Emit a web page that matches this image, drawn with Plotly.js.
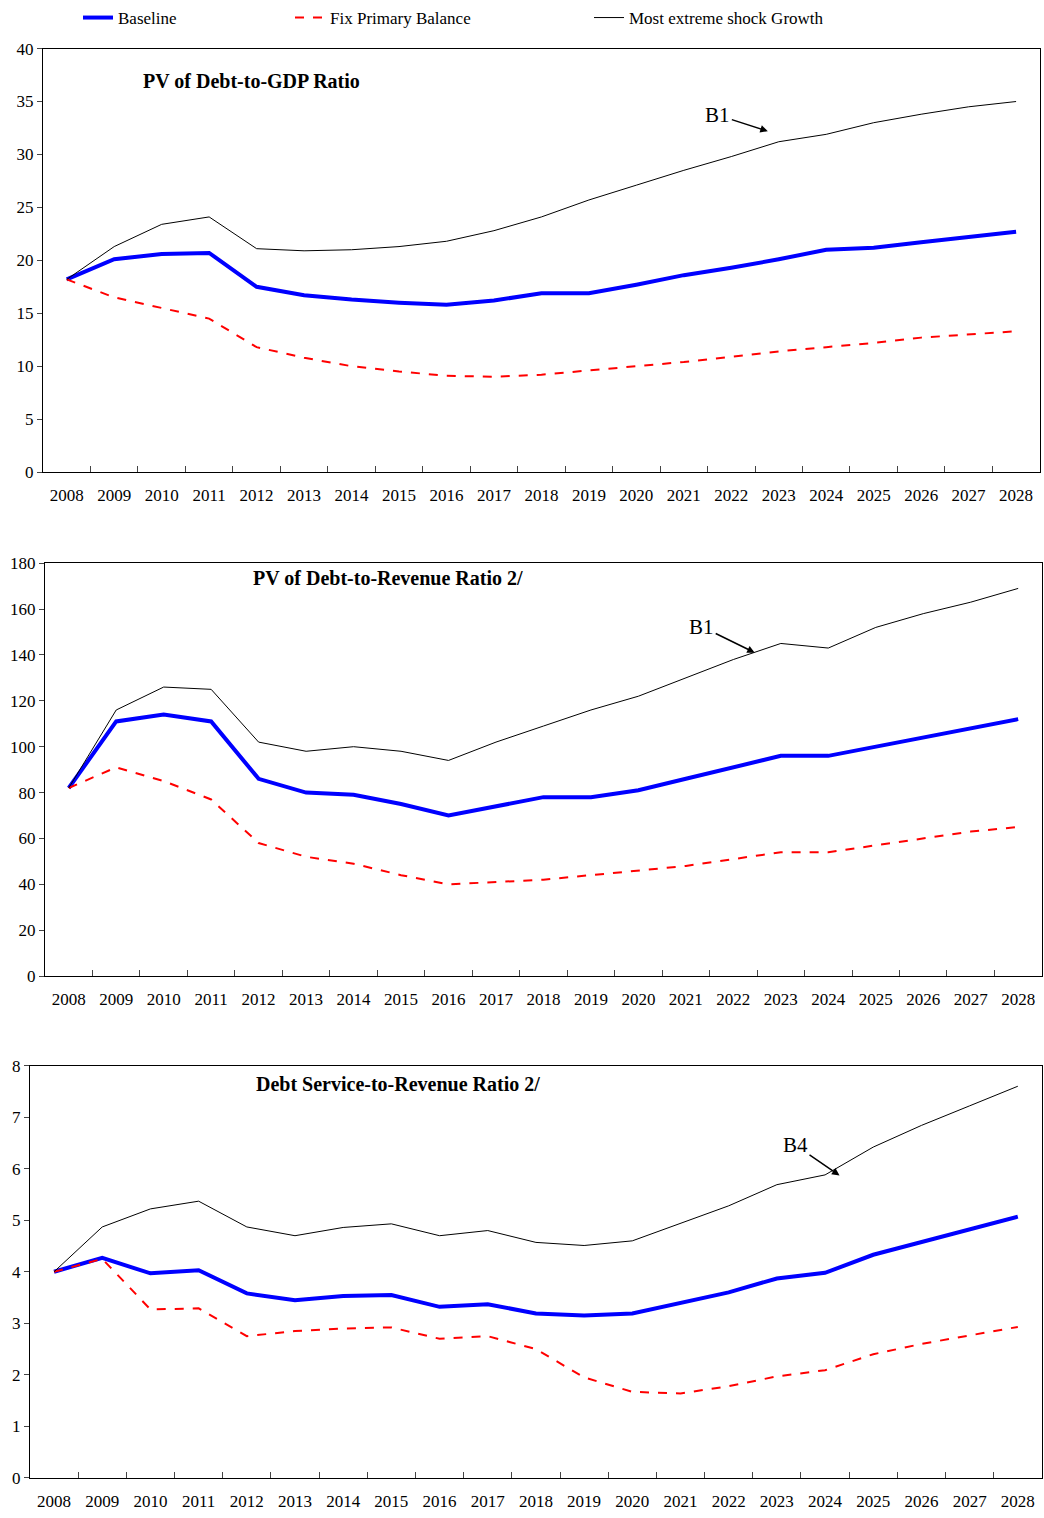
<!DOCTYPE html>
<html><head><meta charset="utf-8">
<script src="https://cdn.plot.ly/plotly-3.0.1.min.js"></script>
<style>body{margin:0}#chart{width:1044px;height:1518px}</style>
</head><body><div id="chart"></div>
<script>
const years = ['2008','2009','2010','2011','2012','2013','2014','2015','2016','2017','2018','2019','2020','2021','2022','2023','2024','2025','2026','2027','2028'];

const gdpBase = [18.2,20.1,20.6,20.7,17.5,16.7,16.3,16.0,15.8,16.2,16.9,16.9,17.7,18.6,19.3,20.1,21.0,21.2,21.7,22.2,22.7];
const gdpFix = [18.2,16.5,15.5,14.5,11.8,10.8,10.0,9.5,9.1,9.0,9.2,9.6,10.0,10.4,10.9,11.4,11.8,12.2,12.7,13.0,13.3];
const gdpShock = [18.2,21.3,23.4,24.1,21.1,20.9,21.0,21.3,21.8,22.8,24.1,25.7,27.1,28.5,29.8,31.2,31.9,33.0,33.8,34.5,35.0];

const revBase = [82,111,114,111,86,80,79,75,70,74,78,78,81,86,91,96,96,100,104,108,112];
const revFix = [82,91,85,77,58,52,49,44,40,41,42,44,46,48,51,54,54,57,60,63,65];
const revShock = [82,116,126,125,102,98,100,98,94,102,109,116,122,130,138,145,143,152,158,163,169];

const dsBase = [4.0,4.27,3.97,4.03,3.58,3.45,3.53,3.55,3.32,3.37,3.19,3.15,3.19,3.39,3.6,3.87,3.98,4.33,4.58,4.82,5.07];
const dsFix = [4.0,4.25,3.27,3.29,2.75,2.85,2.9,2.92,2.7,2.75,2.5,1.95,1.67,1.64,1.78,1.97,2.09,2.4,2.6,2.77,2.93];
const dsShock = [4.0,4.87,5.22,5.37,4.87,4.7,4.86,4.93,4.7,4.8,4.57,4.51,4.6,4.94,5.28,5.69,5.88,6.42,6.84,7.22,7.6];

const names = ['Baseline','Fix Primary Balance','Most extreme shock Growth'];
const styles = [{color:'#0000ff',width:4},{color:'#ff0000',width:2,dash:'dash'},{color:'#000',width:1}];
const legends = ['legend','legend2','legend3'];

let data = [];
[[gdpBase,gdpFix,gdpShock],[revBase,revFix,revShock],[dsBase,dsFix,dsShock]].forEach(function(set,p){
  set.forEach(function(ys,i){
    data.push({x:years,y:ys,type:'scatter',mode:'lines',name:names[i],line:styles[i],legend:legends[i],
      xaxis:p==0?'x':'x'+(p+1),yaxis:p==0?'y':'y'+(p+1),showlegend:p==0});
  });
});

const fam = 'Liberation Serif';
const f = {family:fam,size:17,color:'#000'};
function xa(dom,anchor){return {domain:dom,anchor:anchor,type:'category',tickson:'boundaries',ticks:'inside',ticklen:6,
  showline:true,mirror:true,linecolor:'#000',linewidth:1,showgrid:false,tickfont:f,range:[-0.5,20.5],ticklabelstandoff:8};}
function ya(dom,anchor,rng,dt){return {domain:dom,anchor:anchor,range:rng,dtick:dt,ticks:'outside',ticklen:5,
  showline:true,mirror:true,linecolor:'#000',linewidth:1,showgrid:false,zeroline:false,tickfont:f};}
function lg(px){return {orientation:'h',x:px/1044,y:1.0,yanchor:'top',xanchor:'left',font:f,bgcolor:'rgba(0,0,0,0)'};}

const layout = {
  width:1044,height:1518,margin:{l:0,r:0,t:0,b:0,autoexpand:false},paper_bgcolor:'#fff',plot_bgcolor:'#fff',font:f,
  showlegend:true,
  legend:lg(78),legend2:lg(290),legend3:lg(589),
  xaxis:xa([0.0412,0.996],'y'),yaxis:ya([0.689,0.968],'x',[0,40],5),
  xaxis2:xa([0.0431,0.998],'y2'),yaxis2:ya([0.357,0.629],'x2',[0,180],20),
  xaxis3:xa([0.0287,0.998],'y3'),yaxis3:ya([0.0264,0.298],'x3',[0,8],1),
  annotations:[
    {xref:'x domain',yref:'y domain',x:0.098,y:0.953,text:'<b>PV of Debt-to-GDP Ratio</b>',showarrow:false,xanchor:'left',yanchor:'top',font:{family:fam,size:20}},
    {xref:'x2 domain',yref:'y2 domain',x:0.207,y:0.996,text:'<b>PV of Debt-to-Revenue Ratio 2/</b>',showarrow:false,xanchor:'left',yanchor:'top',font:{family:fam,size:20}},
    {xref:'x3 domain',yref:'y3 domain',x:0.221,y:0.986,text:'<b>Debt Service-to-Revenue Ratio 2/</b>',showarrow:false,xanchor:'left',yanchor:'top',font:{family:fam,size:20}},
    {xref:'x',yref:'y',x:14.77,y:32.2,ax:-50,ay:-16,text:'B1',arrowhead:2,arrowsize:1,arrowwidth:1.5,arrowcolor:'#000',font:{family:fam,size:21}},
    {xref:'x2',yref:'y2',x:14.45,y:141,ax:-53,ay:-26,text:'B1',arrowhead:2,arrowsize:1,arrowwidth:1.5,arrowcolor:'#000',font:{family:fam,size:21}},
    {xref:'x3',yref:'y3',x:16.3,y:5.87,ax:-44,ay:-30,text:'B4',arrowhead:2,arrowsize:1,arrowwidth:1.5,arrowcolor:'#000',font:{family:fam,size:21}}
  ]
};
Plotly.newPlot('chart',data,layout,{staticPlot:true});
</script></body></html>
